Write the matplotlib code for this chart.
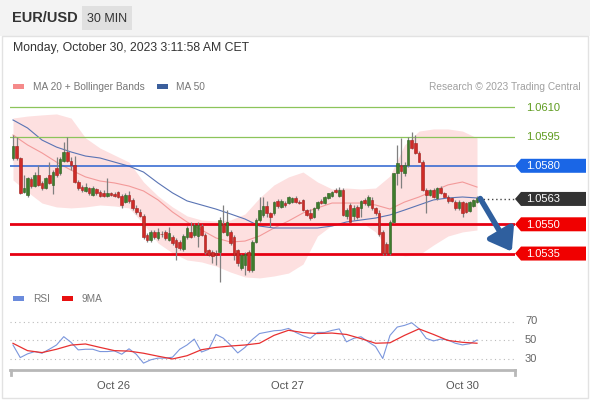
import numpy as np
import matplotlib
matplotlib.use("Agg")
import matplotlib.pyplot as plt
from matplotlib.patches import Rectangle, Polygon

plt.rcParams["font.family"] = ["Liberation Sans", "DejaVu Sans"]

W, H = 590, 400

# 30 min candles, Oct 25 10:00 -> Oct 30 02:00
opens = [1.05838, 1.05903, 1.05838, 1.05667, 1.05650, 1.05730, 1.05695, 1.05753,
         1.05710, 1.05688, 1.05753, 1.05702, 1.05787, 1.05761, 1.05825, 1.05872,
         1.05825, 1.05804, 1.05719, 1.05693, 1.05670, 1.05684, 1.05650, 1.05681,
         1.05667, 1.05660, 1.05647, 1.05659, 1.05655, 1.05667, 1.05647, 1.05616,
         1.05650, 1.05625, 1.05585, 1.05565, 1.05540, 1.05445, 1.05419, 1.05460,
         1.05430, 1.05450, 1.05462, 1.05419, 1.05437, 1.05420, 1.05411, 1.05375,
         1.05437, 1.05462, 1.05445, 1.05440, 1.05490, 1.05445, 1.05368, 1.05360,
         1.05355, 1.05359, 1.05500, 1.05445, 1.05462, 1.05437, 1.05368, 1.05274,
         1.05290, 1.05359, 1.05266, 1.05411, 1.05522, 1.05548, 1.05594, 1.05556,
         1.05556, 1.05619, 1.05590, 1.05610, 1.05610, 1.05616, 1.05637, 1.05616,
         1.05625, 1.05573, 1.05556, 1.05535, 1.05582, 1.05619, 1.05610, 1.05633,
         1.05645, 1.05676, 1.05645, 1.05676, 1.05540, 1.05599, 1.05540, 1.05590,
         1.05582, 1.05625, 1.05599, 1.05625, 1.05582, 1.05556, 1.05462, 1.05400,
         1.05351, 1.05513, 1.05761, 1.05805, 1.05761, 1.05804, 1.05932, 1.05915,
         1.05864, 1.05821, 1.05676, 1.05650, 1.05676, 1.05633, 1.05684, 1.05659,
         1.05642, 1.05635, 1.05616, 1.05582, 1.05616, 1.05608, 1.05570, 1.05595,
         1.05616]
highs = [1.05958, 1.05949, 1.05845, 1.05753, 1.05745, 1.05740, 1.05770, 1.05804,
         1.05720, 1.05745, 1.05818, 1.05780, 1.05847, 1.05845, 1.05924, 1.05949,
         1.05847, 1.05852, 1.05725, 1.05700, 1.05710, 1.05690, 1.05695, 1.05685,
         1.05675, 1.05675, 1.05736, 1.05665, 1.05665, 1.05670, 1.05655, 1.05660,
         1.05670, 1.05635, 1.05600, 1.05580, 1.05555, 1.05455, 1.05470, 1.05470,
         1.05480, 1.05465, 1.05470, 1.05488, 1.05445, 1.05430, 1.05420, 1.05450,
         1.05490, 1.05513, 1.05505, 1.05513, 1.05500, 1.05455, 1.05375, 1.05370,
         1.05370, 1.05535, 1.05599, 1.05573, 1.05470, 1.05445, 1.05375, 1.05350,
         1.05360, 1.05370, 1.05420, 1.05530, 1.05642, 1.05642, 1.05620, 1.05565,
         1.05620, 1.05630, 1.05630, 1.05620, 1.05645, 1.05642, 1.05645, 1.05625,
         1.05630, 1.05580, 1.05580, 1.05590, 1.05620, 1.05630, 1.05645, 1.05660,
         1.05670, 1.05685, 1.05693, 1.05685, 1.05585, 1.05610, 1.05600, 1.05600,
         1.05625, 1.05635, 1.05650, 1.05640, 1.05590, 1.05573, 1.05470, 1.05410,
         1.05520, 1.05765, 1.05907, 1.05941, 1.05820, 1.05950, 1.05975, 1.05958,
         1.05875, 1.05830, 1.05685, 1.05680, 1.05685, 1.05690, 1.05695, 1.05665,
         1.05650, 1.05640, 1.05625, 1.05625, 1.05620, 1.05615, 1.05620, 1.05630,
         1.05645]
lows = [1.05830, 1.05830, 1.05655, 1.05660, 1.05642, 1.05685, 1.05690, 1.05695,
        1.05678, 1.05680, 1.05705, 1.05653, 1.05745, 1.05755, 1.05820, 1.05818,
        1.05779, 1.05710, 1.05676, 1.05668, 1.05665, 1.05652, 1.05645, 1.05652,
        1.05642, 1.05640, 1.05642, 1.05645, 1.05640, 1.05635, 1.05585, 1.05610,
        1.05610, 1.05575, 1.05555, 1.05535, 1.05425, 1.05410, 1.05410, 1.05425,
        1.05420, 1.05435, 1.05420, 1.05415, 1.05395, 1.05317, 1.05370, 1.05365,
        1.05425, 1.05430, 1.05435, 1.05385, 1.05440, 1.05350, 1.05335, 1.05300,
        1.05290, 1.05206, 1.05455, 1.05440, 1.05395, 1.05317, 1.05285, 1.05265,
        1.05240, 1.05257, 1.05257, 1.05405, 1.05510, 1.05535, 1.05535, 1.05488,
        1.05550, 1.05585, 1.05585, 1.05590, 1.05605, 1.05610, 1.05610, 1.05605,
        1.05570, 1.05545, 1.05520, 1.05530, 1.05575, 1.05605, 1.05605, 1.05630,
        1.05640, 1.05660, 1.05640, 1.05540, 1.05525, 1.05510, 1.05520, 1.05525,
        1.05535, 1.05600, 1.05590, 1.05575, 1.05550, 1.05440, 1.05343, 1.05345,
        1.05345, 1.05505, 1.05700, 1.05684, 1.05750, 1.05795, 1.05885, 1.05860,
        1.05818, 1.05670, 1.05556, 1.05645, 1.05635, 1.05625, 1.05655, 1.05640,
        1.05610, 1.05615, 1.05575, 1.05575, 1.05539, 1.05560, 1.05565, 1.05590,
        1.05610]
closes = [1.05903, 1.05838, 1.05659, 1.05684, 1.05736, 1.05695, 1.05753, 1.05702,
          1.05684, 1.05736, 1.05710, 1.05770, 1.05753, 1.05835, 1.05872, 1.05825,
          1.05804, 1.05719, 1.05684, 1.05676, 1.05690, 1.05659, 1.05684, 1.05659,
          1.05647, 1.05645, 1.05659, 1.05650, 1.05647, 1.05642, 1.05599, 1.05650,
          1.05620, 1.05585, 1.05565, 1.05545, 1.05435, 1.05419, 1.05462, 1.05435,
          1.05460, 1.05448, 1.05428, 1.05454, 1.05402, 1.05385, 1.05377, 1.05440,
          1.05479, 1.05437, 1.05496, 1.05495, 1.05445, 1.05359, 1.05343, 1.05335,
          1.05340, 1.05522, 1.05462, 1.05513, 1.05402, 1.05343, 1.05300, 1.05343,
          1.05350, 1.05266, 1.05411, 1.05522, 1.05573, 1.05594, 1.05556, 1.05539,
          1.05616, 1.05595, 1.05619, 1.05599, 1.05638, 1.05637, 1.05616, 1.05610,
          1.05573, 1.05550, 1.05530, 1.05582, 1.05616, 1.05610, 1.05638, 1.05659,
          1.05665, 1.05665, 1.05676, 1.05548, 1.05575, 1.05513, 1.05585, 1.05535,
          1.05620, 1.05607, 1.05642, 1.05582, 1.05556, 1.05450, 1.05351, 1.05351,
          1.05513, 1.05761, 1.05813, 1.05775, 1.05804, 1.05932, 1.05890, 1.05864,
          1.05821, 1.05676, 1.05650, 1.05676, 1.05642, 1.05684, 1.05659, 1.05642,
          1.05620, 1.05620, 1.05582, 1.05616, 1.05558, 1.05565, 1.05616, 1.05625,
          1.05633]

# indicators read every 4th candle
ind_idx = list(range(0, 129, 4))
ma20 = [1.05958, 1.05907, 1.05866, 1.05819, 1.05778, 1.05743, 1.05722, 1.05712,
        1.05696, 1.05671, 1.05625, 1.05563, 1.05512, 1.05471, 1.05430, 1.05409,
        1.05414, 1.05440, 1.05481, 1.05517, 1.05558, 1.05584, 1.05609, 1.05609,
        1.05609, 1.05599, 1.05578, 1.05614, 1.05640, 1.05671, 1.05702, 1.05717,
        1.05691]
bb_upper = [1.06045, 1.06055, 1.06061, 1.06066, 1.06045, 1.05943, 1.05891, 1.05855,
            1.05819, 1.05717, 1.05645, 1.05589, 1.05543, 1.05522, 1.05517, 1.05522,
            1.05553, 1.05635, 1.05702, 1.05743, 1.05768, 1.05717, 1.05681, 1.05686,
            1.05681, 1.05686, 1.05748, 1.05907, 1.05978, 1.05989, 1.05989, 1.05978,
            1.05943]
bb_lower = [1.05727, 1.05666, 1.05609, 1.05589, 1.05584, 1.05589, 1.05599, 1.05594,
            1.05584, 1.05502, 1.05404, 1.05353, 1.05317, 1.05307, 1.05286, 1.05255,
            1.05230, 1.05225, 1.05235, 1.05250, 1.05296, 1.05440, 1.05496, 1.05502,
            1.05512, 1.05461, 1.05358, 1.05338, 1.05343, 1.05394, 1.05440, 1.05461,
            1.05471]
ma50 = [1.06035, 1.05994, 1.05932, 1.05896, 1.05871, 1.05850, 1.05840, 1.05819,
        1.05798, 1.05768, 1.05712, 1.05661, 1.05620, 1.05599, 1.05578, 1.05553,
        1.05527, 1.05491, 1.05481, 1.05481, 1.05481, 1.05481, 1.05491, 1.05512,
        1.05522, 1.05532, 1.05548, 1.05573, 1.05599, 1.05625, 1.05635, 1.05640,
        1.05635]

rsi_idx = list(range(0, 129, 2))
rsi = [44.6, 31.0, 35.0, 37.5, 35.7, 40.0, 44.6, 53.6, 47.5, 39.3, 40.0, 40.0,
       37.5, 37.5, 38.2, 34.6, 40.5, 34.6, 25.0, 28.6, 30.4, 30.4, 31.4, 40.0,
       44.6, 51.0, 37.0, 40.0, 56.0, 52.0, 44.6, 36.0, 42.0, 50.5, 57.0, 58.5,
       60.0, 60.5, 62.5, 58.2, 54.6, 51.8, 58.2, 58.2, 60.4, 62.0, 48.0, 51.8,
       53.5, 48.0, 43.0, 30.0, 55.0, 64.0, 65.8, 68.6, 62.3, 51.8, 49.0, 51.0,
       50.0, 46.5, 44.7, 46.0, 50.0]
rsi_ma9 = [46.4, 38.5, 36.4, 40.0, 44.5, 45.7, 42.0, 38.5, 38.0, 35.7, 32.5, 29.5,
           33.0, 39.5, 42.0, 43.5, 44.6, 46.5, 55.0, 60.5, 58.0, 57.0, 57.5, 56.0,
           51.5, 46.5, 47.0, 55.0, 62.0, 56.0, 49.5, 47.5, 46.5]

date_pos = [27.6, 75.6, 123.9]
date_labels = ["Oct 26", "Oct 27", "Oct 30"]

resistances = [1.0610, 1.0595]
pivot = 1.0580
last_price = 1.0563
supports = [1.0550, 1.0535]
rsi_levels = [70, 50, 30]

fig = plt.figure(figsize=(W / 100, H / 100), dpi=100)


def add_px_axes(x0, y0, x1, y1, **kw):
    return fig.add_axes([x0 / W, 1 - y1 / H, (x1 - x0) / W, (y1 - y0) / H], **kw)


# background / frame
bg = add_px_axes(0, 0, W, H)
bg.set_xlim(0, W)
bg.set_ylim(H, 0)
bg.axis("off")
bg.add_patch(Rectangle((0, 0), W, 36, color="#f3f3f3", lw=0))
bg.add_patch(Rectangle((2, 36), W - 4, H - 38, facecolor="white",
                       edgecolor="#e2e2e2", lw=1))
bg.add_patch(Rectangle((82, 6), 50, 24, color="#e0e0e0", lw=0))
bg.text(12, 18.5, "EUR/USD", fontsize=10.5, fontweight="bold", color="#333333", va="center")
bg.text(107, 18.5, "30 MIN", fontsize=9, color="#333333", va="center", ha="center")
bg.text(13, 48, "Monday, October 30, 2023 3:11:58 AM CET", fontsize=8.8,
        color="#333333", va="center")

# legends
bg.add_patch(Rectangle((13, 84), 11, 5, color="#f58a8a", lw=0))
bg.text(33, 86.5, "MA 20 + Bollinger Bands", fontsize=7.3, color="#777777", va="center")
bg.add_patch(Rectangle((157, 84), 11, 5, color="#3b5f9c", lw=0))
bg.text(176, 86.5, "MA 50", fontsize=7.3, color="#777777", va="center")
bg.text(581, 86.5, "Research \u00a9 2023 Trading Central", fontsize=7.3,
        color="#a0a0a0", va="center", ha="right")
bg.add_patch(Rectangle((13, 296), 11, 5, color="#6b8bdc", lw=0))
bg.text(33, 298.5, "RSI", fontsize=7.3, color="#777777", va="center")
bg.add_patch(Rectangle((62, 296), 11, 5, color="#e81010", lw=0))
bg.text(82, 298.5, "9MA", fontsize=7.3, color="#777777", va="center")

# main price panel
x_lo, x_hi = (10 - 13) / 3.625, (515 - 13) / 3.625
ax = add_px_axes(10, 100, 515, 285)
ax.patch.set_alpha(0)
ax.set_xlim(x_lo, x_hi)
ax.set_ylim(1.051887, 1.061374)
ax.axis("off")

ax.fill_between(ind_idx, bb_lower, bb_upper, color="#fde0e0", lw=0, zorder=1)
ax.plot(ind_idx, ma20, color="#f39a9a", lw=0.8, zorder=2)
ax.plot(ind_idx, ma50, color="#5a74b4", lw=0.8, zorder=2)

for lvl in resistances:
    ax.axhline(lvl, color="#8cc45a", lw=0.9, zorder=3)
ax.axhline(pivot, color="#2a62d0", lw=1.1, zorder=3)
for lvl in supports:
    ax.axhline(lvl, color="#e60012", lw=2, zorder=3)

idx = np.arange(len(closes))
o, h, l, c = map(np.array, (opens, highs, lows, closes))
up = c >= o
ax.vlines(idx, l, h, color="#808080", lw=0.9, zorder=4)
body = np.maximum(np.abs(c - o), 0.00003)
ax.bar(idx[up], body[up], bottom=np.minimum(o, c)[up], width=0.72,
       color="#3e7d2c", edgecolor="#2d5e20", lw=0.4, zorder=5)
ax.bar(idx[~up], body[~up], bottom=np.minimum(o, c)[~up], width=0.72,
       color="#cf2b27", edgecolor="#a21e1b", lw=0.4, zorder=5)

ax.hlines(last_price, idx[-1] + 0.6, x_hi, color="#444444", lw=1,
          linestyles=(0, (1, 2)), zorder=3)
ax.annotate("", xy=(137.6, 1.05360), xytext=(128.9, 1.05632),
            arrowprops=dict(arrowstyle="-|>,head_length=0.7,head_width=0.5",
                            color="#2f5f9e", lw=4, mutation_scale=18,
                            shrinkA=0, shrinkB=0),
            annotation_clip=False, zorder=6)


def to_px_y(price):
    return H - ax.transData.transform((0, price))[1]


def tag(price, color):
    y = to_px_y(price)
    bg.add_patch(Polygon([(515, y), (521, y - 7), (586, y - 7), (586, y + 7), (521, y + 7)],
                         closed=True, color=color, lw=0, zorder=5))
    bg.text(526, y + 0.5, f"{price:.4f}", fontsize=8, color="white", va="center", zorder=6)


for lvl in resistances:
    bg.text(526, to_px_y(lvl) + 0.5, f"{lvl:.4f}", fontsize=8, color="#5e9b1e", va="center")
tag(pivot, "#1a66e6")
tag(last_price, "#333333")
for lvl in supports:
    tag(lvl, "#f00000")

# RSI panel
ax2 = add_px_axes(10, 305, 515, 370)
ax2.patch.set_alpha(0)
ax2.set_xlim(x_lo, x_hi)
ax2.set_ylim(50 - 30 / 0.925, 50 + 35 / 0.925)
for lvl in rsi_levels:
    ax2.axhline(lvl, color="#bbbbbb", lw=0.8, linestyle=(0, (1, 3)))
    bg.text(525, H - ax2.transData.transform((0, lvl))[1], str(lvl), fontsize=8,
            color="#666666", va="center")
ax2.plot(rsi_idx, rsi, color="#7b96dc", lw=0.8)
ax2.plot(ind_idx, rsi_ma9, color="#e83030", lw=0.9)
for side in ("top", "right", "left"):
    ax2.spines[side].set_visible(False)
ax2.spines["bottom"].set_color("#b8b8b8")
ax2.spines["bottom"].set_linewidth(2)
ax2.set_yticks([])
ax2.set_xticks(date_pos)
ax2.set_xticklabels(date_labels, fontsize=8, color="#555555")
ax2.tick_params(axis="x", length=0, pad=8)
bg.plot([11, 11], [370, 375], color="#b8b8b8", lw=2)
bg.plot([515, 515], [370, 375], color="#b8b8b8", lw=2)

fig.savefig("out.png", dpi=100)
